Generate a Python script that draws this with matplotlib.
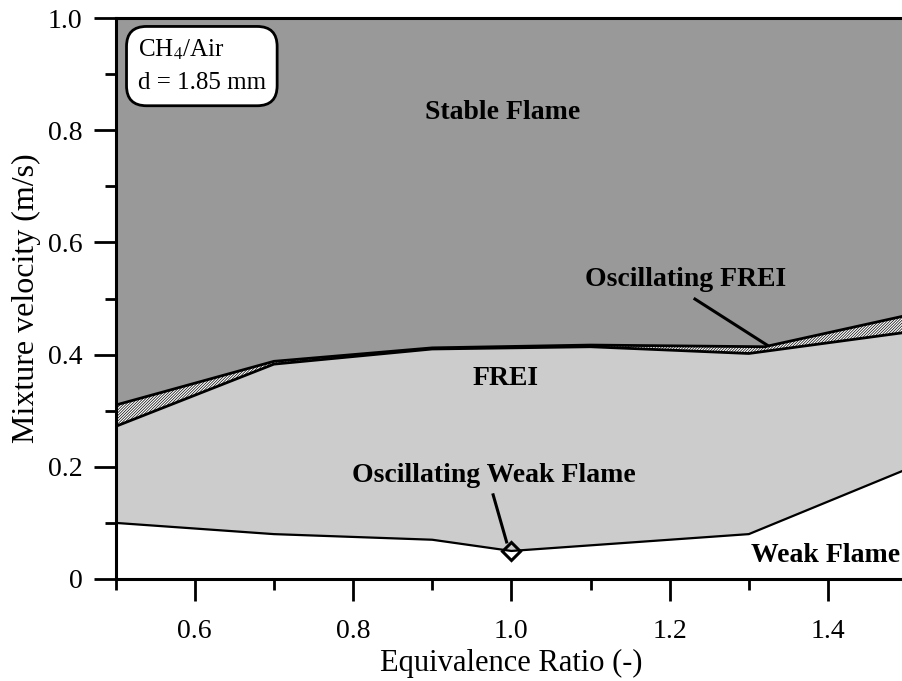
import matplotlib
matplotlib.use('Agg')
import matplotlib.pyplot as plt

plt.rcParams['font.family'] = ['Liberation Serif', 'DejaVu Serif']
plt.rcParams['mathtext.fontset'] = 'stix'
plt.rcParams['hatch.linewidth'] = 0.5

# limites das regioes (razao de equivalencia x velocidade da mistura)
phi_stable = [0.5, 0.7, 0.9, 1.1, 1.32, 1.5]
u_stable = [0.31, 0.388, 0.412, 0.417, 0.414, 0.47]   # limite inferior da chama estavel

phi_frei = [0.5, 0.7, 0.9, 1.1, 1.3, 1.5]
u_frei = [0.272, 0.383, 0.41, 0.414, 0.402, 0.44]      # limite superior do FREI

phi_weak = [0.5, 0.7, 0.9, 1.0, 1.3, 1.5]
u_weak = [0.10, 0.08, 0.07, 0.05, 0.08, 0.196]          # limite superior da chama fraca

phi_osc_weak = [1.0]
u_osc_weak = [0.05]

# linhas de chamada dos rotulos
ptr_frei_x = [1.232, 1.323]
ptr_frei_y = [0.499, 0.417]
ptr_weak_x = [0.977, 0.994]
ptr_weak_y = [0.150, 0.066]

xticks = [0.6, 0.8, 1.0, 1.2, 1.4]
xminor = [0.5, 0.7, 0.9, 1.1, 1.3, 1.5]
yticks = [0, 0.2, 0.4, 0.6, 0.8, 1.0]
ytick_labels = ['0', '0.2', '0.4', '0.6', '0.8', '1.0']
yminor = [0.1, 0.3, 0.5, 0.7, 0.9]

fig = plt.figure(figsize=(9.03, 6.81), dpi=100)
ax = fig.add_axes([115.6 / 903, 102 / 681, 791.5 / 903, 561 / 681])

# regioes preenchidas
ax.fill_between(phi_stable, u_stable, 1.0, color='#999999', lw=0)
ax.fill_between(phi_stable, u_stable, 0.0, facecolor='white', edgecolor='black',
                hatch='////////////', lw=0, zorder=1.5)
ax.fill_between(phi_frei, u_frei, 0.0, color='#cccccc', lw=0, zorder=1.6)
ax.fill_between(phi_weak, u_weak, 0.0, color='white', lw=0, zorder=1.7)

ax.plot(phi_stable, u_stable, color='black', lw=2, zorder=3)
ax.plot(phi_frei, u_frei, color='black', lw=2, zorder=3)
ax.plot(phi_weak, u_weak, color='black', lw=1.6, zorder=3)
ax.plot(phi_osc_weak, u_osc_weak, 'D', ms=9, mfc='none', mec='black', mew=2.2, zorder=4)
ax.plot(ptr_frei_x, ptr_frei_y, color='black', lw=2.2, zorder=4)
ax.plot(ptr_weak_x, ptr_weak_y, color='black', lw=2.2, zorder=4)

# textos das regioes
kw = dict(fontsize=20, fontweight='bold', va='center', zorder=5)
ax.text(0.989, 0.832, 'Stable Flame', ha='center', **kw)
ax.text(0.993, 0.358, 'FREI', ha='center', **kw)
ax.text(1.491, 0.041, 'Weak Flame', ha='right', **kw)
ax.text(1.22, 0.533, 'Oscillating FREI', ha='center', **kw)
ax.text(0.978, 0.185, 'Oscillating Weak Flame', ha='center', **kw)

ax.text(0.528, 0.914, 'CH$_4$/Air\nd = 1.85 mm', fontsize=18, ha='left', va='center',
        linespacing=1.6, zorder=6,
        bbox=dict(boxstyle='round,pad=0.45,rounding_size=0.8', fc='white', ec='black', lw=2))

ax.set_xlim(0.5, 1.5)
ax.set_ylim(0, 1.0)
ax.set_xticks(xticks)
ax.set_xticklabels([f'{v:.1f}' for v in xticks])
ax.set_xticks(xminor, minor=True)
ax.set_yticks(yticks)
ax.set_yticklabels(ytick_labels)
ax.set_yticks(yminor, minor=True)

ax.tick_params(which='major', direction='out', length=16, width=2, labelsize=20)
ax.tick_params(which='minor', direction='out', length=8, width=2)
ax.tick_params(axis='x', which='major', pad=13)
ax.tick_params(axis='y', which='major', pad=8)
for s in ax.spines.values():
    s.set_linewidth(2.2)
    s.set_zorder(6)

ax.set_xlabel('Equivalence Ratio (-)', fontsize=22, labelpad=3)
ax.set_ylabel('Mixture velocity (m/s)', fontsize=23, labelpad=5)

fig.savefig('out.png', dpi=100)
